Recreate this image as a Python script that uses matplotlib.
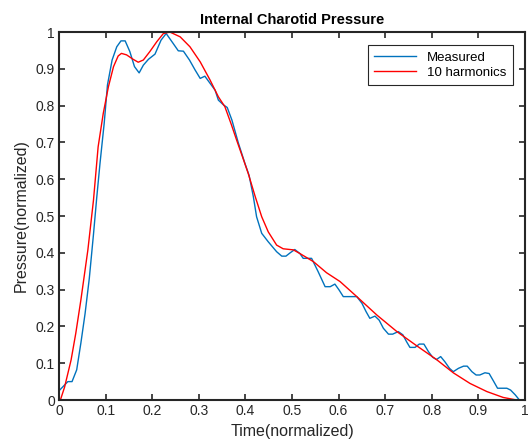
import matplotlib
matplotlib.use("Agg")
import matplotlib.pyplot as plt

# measured pressure waveform
meas_t = [0.0, 0.019, 0.028, 0.038, 0.047, 0.056, 0.065, 0.074, 0.081, 0.088,
          0.097, 0.104, 0.114, 0.124, 0.133, 0.142, 0.152, 0.162, 0.172, 0.181,
          0.192, 0.206, 0.219, 0.230, 0.245, 0.256, 0.267, 0.280, 0.292, 0.303,
          0.313, 0.324, 0.335, 0.342, 0.353, 0.361, 0.371, 0.385, 0.399, 0.408,
          0.417, 0.424, 0.435, 0.449, 0.467, 0.478, 0.487, 0.496, 0.506, 0.517,
          0.524, 0.542, 0.556, 0.571, 0.582, 0.592, 0.601, 0.610, 0.639, 0.650,
          0.659, 0.667, 0.678, 0.687, 0.696, 0.707, 0.716, 0.728, 0.738, 0.746,
          0.753, 0.764, 0.773, 0.783, 0.793, 0.802, 0.810, 0.819, 0.828, 0.838,
          0.846, 0.857, 0.868, 0.876, 0.886, 0.895, 0.903, 0.914, 0.923, 0.933,
          0.941, 0.961, 0.969, 0.979, 0.988, 1.0]
meas_p = [0.025, 0.050, 0.050, 0.082, 0.155, 0.235, 0.330, 0.450, 0.550, 0.643,
          0.752, 0.856, 0.924, 0.960, 0.976, 0.976, 0.947, 0.906, 0.889, 0.910,
          0.926, 0.940, 0.978, 0.996, 0.969, 0.949, 0.948, 0.924, 0.897, 0.874,
          0.880, 0.861, 0.842, 0.815, 0.802, 0.795, 0.761, 0.698, 0.643, 0.610,
          0.553, 0.498, 0.453, 0.430, 0.403, 0.391, 0.391, 0.400, 0.409, 0.398,
          0.385, 0.385, 0.349, 0.308, 0.308, 0.315, 0.299, 0.281, 0.281, 0.263,
          0.240, 0.222, 0.228, 0.217, 0.195, 0.179, 0.179, 0.186, 0.177, 0.158,
          0.143, 0.143, 0.152, 0.152, 0.131, 0.116, 0.110, 0.118, 0.104, 0.086,
          0.077, 0.086, 0.092, 0.092, 0.077, 0.068, 0.068, 0.074, 0.072, 0.050,
          0.032, 0.032, 0.027, 0.014, 0.0, 0.0]

# 10-harmonic reconstruction
fit_t = [0.003, 0.012, 0.026, 0.036, 0.047, 0.062, 0.074, 0.084, 0.095, 0.106,
         0.117, 0.127, 0.134, 0.145, 0.159, 0.170, 0.181, 0.195, 0.210, 0.224,
         0.238, 0.260, 0.281, 0.303, 0.324, 0.342, 0.356, 0.370, 0.381, 0.394,
         0.406, 0.421, 0.435, 0.449, 0.467, 0.481, 0.503, 0.517, 0.546, 0.574,
         0.603, 0.639, 0.682, 0.725, 0.768, 0.810, 0.846, 0.882, 0.918, 0.953,
         0.982, 1.0]
fit_p = [0.0, 0.035, 0.109, 0.181, 0.272, 0.408, 0.543, 0.688, 0.779, 0.851,
         0.906, 0.935, 0.942, 0.938, 0.926, 0.918, 0.924, 0.947, 0.974, 0.996,
         1.0, 0.987, 0.960, 0.919, 0.870, 0.824, 0.797, 0.748, 0.707, 0.660,
         0.616, 0.553, 0.498, 0.457, 0.421, 0.411, 0.408, 0.398, 0.376, 0.346,
         0.322, 0.281, 0.231, 0.186, 0.147, 0.110, 0.074, 0.045, 0.023, 0.007,
         0.0, 0.0]

plt.rcParams['font.family'] = ['Liberation Sans', 'DejaVu Sans']

fig = plt.figure(figsize=(5.29, 4.42), dpi=100)
ax = fig.add_axes([0.1115, 0.095, 0.881, 0.8325])

ax.plot(meas_t, meas_p, color='#0072BD', lw=1.0, label='Measured')
ax.plot(fit_t, fit_p, color='#FF0000', lw=1.0, label='10 harmonics')

ax.set_xlim(0, 1)
ax.set_ylim(0, 1)
ticks = [i / 10 for i in range(11)]
tick_labels = ['0', '0.1', '0.2', '0.3', '0.4', '0.5', '0.6', '0.7', '0.8', '0.9', '1']
ax.set_xticks(ticks)
ax.set_yticks(ticks)
ax.set_xticklabels(tick_labels)
ax.set_yticklabels(tick_labels)
ax.tick_params(direction='in', top=True, right=True, length=4, width=1.2,
               labelsize=10, colors='#262626', pad=3)
for s in ax.spines.values():
    s.set_linewidth(1.5)
    s.set_color('#262626')

ax.set_title('Internal Charotid Pressure', fontsize=10.5, fontweight='bold', pad=6)
ax.set_xlabel('Time(normalized)', fontsize=11.5, color='#262626', labelpad=4)
ax.set_ylabel('Pressure(normalized)', fontsize=11.5, color='#262626', labelpad=5)

leg = ax.legend(loc='upper right', fontsize=9.5, fancybox=False, framealpha=1,
                edgecolor='#262626', handlelength=3.2, borderpad=0.5,
                labelspacing=0.2, borderaxespad=0,
                bbox_to_anchor=(0.974, 0.965))
leg.get_frame().set_linewidth(0.8)

fig.savefig('out.png', dpi=100)
